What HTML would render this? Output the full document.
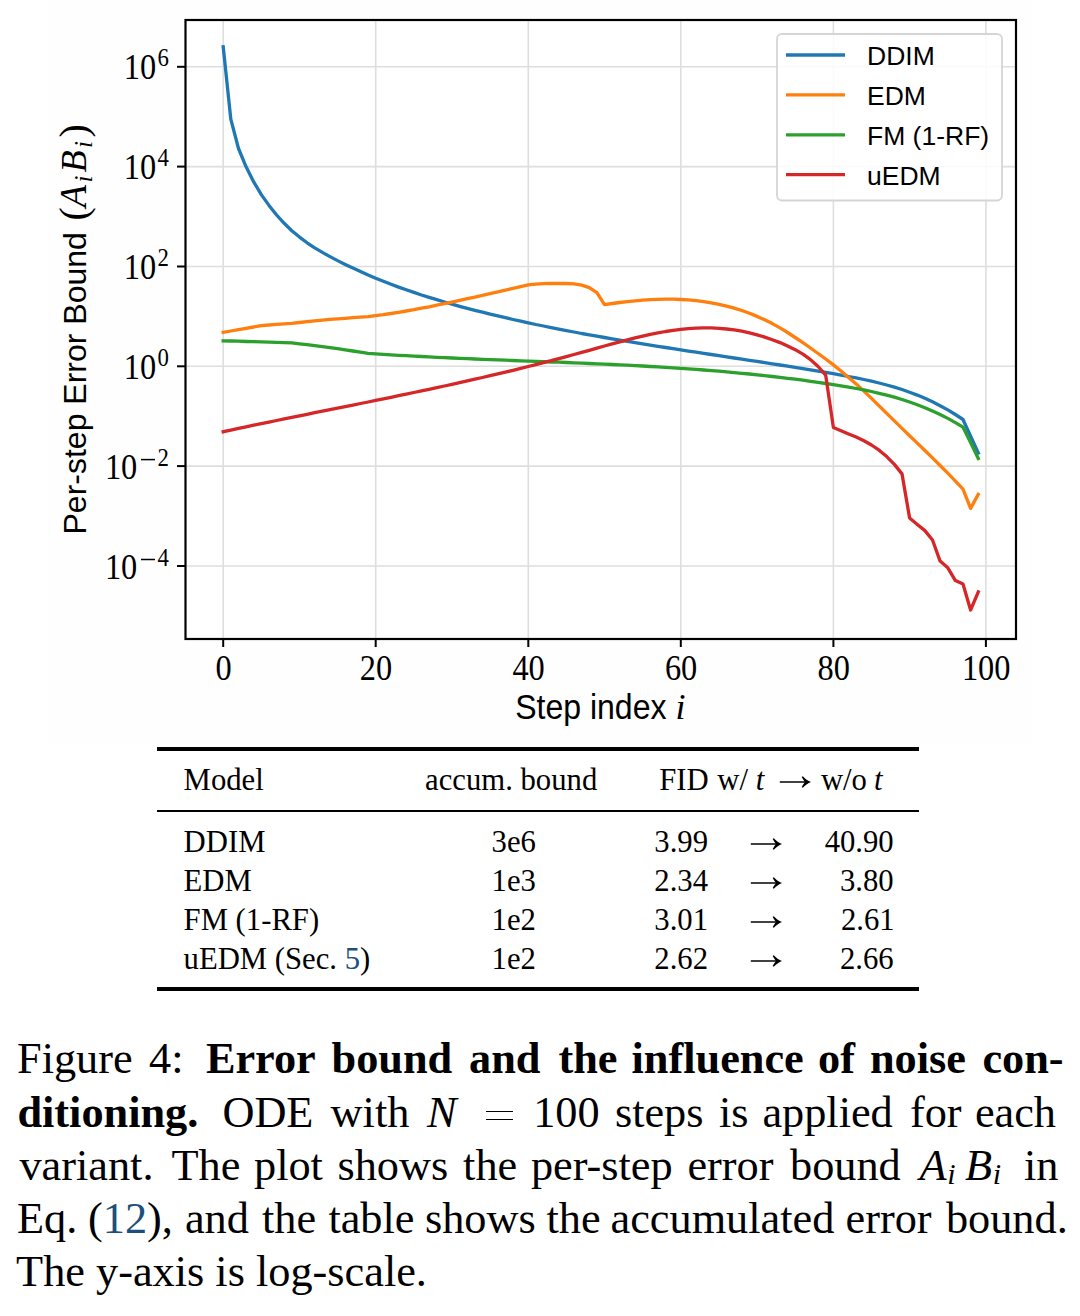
<!DOCTYPE html>
<html><head><meta charset="utf-8"><style>
html,body{margin:0;padding:0;background:#fff;width:1080px;height:1316px;overflow:hidden;position:relative}
.t{position:absolute;font-family:"Liberation Serif",serif;color:#000;white-space:pre;line-height:1}
.rule{position:absolute;background:#000}
.cap{position:absolute;left:18px;width:1041px;font-family:"Liberation Serif",serif;font-size:43.5px;line-height:1;text-align:justify;text-align-last:justify;white-space:nowrap}
.blue{color:#1c4f7c}
sub{font-size:0.68em;vertical-align:baseline;position:relative;top:0.13em;margin-left:0.02em}
</style></head><body>
<svg width="1080" height="760" viewBox="0 0 1080 760" style="position:absolute;left:0;top:0"><rect x="48" y="0" width="984" height="744" fill="#fefefe"/><rect x="186" y="20" width="830" height="619" fill="#ffffff"/><line x1="223.2" y1="20" x2="223.2" y2="639" stroke="#dedede" stroke-width="1.6"/><line x1="375.7" y1="20" x2="375.7" y2="639" stroke="#dedede" stroke-width="1.6"/><line x1="528.3" y1="20" x2="528.3" y2="639" stroke="#dedede" stroke-width="1.6"/><line x1="680.8" y1="20" x2="680.8" y2="639" stroke="#dedede" stroke-width="1.6"/><line x1="833.4" y1="20" x2="833.4" y2="639" stroke="#dedede" stroke-width="1.6"/><line x1="985.9" y1="20" x2="985.9" y2="639" stroke="#dedede" stroke-width="1.6"/><line x1="186" y1="66.8" x2="1016" y2="66.8" stroke="#dedede" stroke-width="1.6"/><line x1="186" y1="166.6" x2="1016" y2="166.6" stroke="#dedede" stroke-width="1.6"/><line x1="186" y1="266.5" x2="1016" y2="266.5" stroke="#dedede" stroke-width="1.6"/><line x1="186" y1="366.3" x2="1016" y2="366.3" stroke="#dedede" stroke-width="1.6"/><line x1="186" y1="466.1" x2="1016" y2="466.1" stroke="#dedede" stroke-width="1.6"/><line x1="186" y1="566.0" x2="1016" y2="566.0" stroke="#dedede" stroke-width="1.6"/><g fill="none" stroke-width="3.3" stroke-linejoin="round" stroke-linecap="square"><path d="M223.2,46.7 L230.8,119.1 L238.5,148.5 L246.1,166.8 L253.7,181.9 L261.3,194.6 L269.0,205.4 L276.6,215.0 L284.2,223.3 L291.8,230.7 L299.5,237.1 L307.1,242.8 L314.7,247.9 L322.4,252.4 L330.0,256.6 L337.6,260.6 L345.2,264.4 L352.9,268.1 L360.5,271.6 L368.1,274.9 L375.7,278.2 L383.4,281.3 L391.0,284.2 L398.6,287.1 L406.2,289.8 L413.9,292.4 L421.5,295.0 L429.1,297.4 L436.8,299.7 L444.4,302.0 L452.0,304.2 L459.6,306.3 L467.3,308.3 L474.9,310.3 L482.5,312.2 L490.1,314.1 L497.8,315.9 L505.4,317.7 L513.0,319.5 L520.7,321.2 L528.3,322.8 L535.9,324.5 L543.5,326.0 L551.2,327.6 L558.8,329.1 L566.4,330.6 L574.0,332.0 L581.7,333.5 L589.3,334.8 L596.9,336.2 L604.5,337.5 L612.2,338.9 L619.8,340.2 L627.4,341.4 L635.1,342.7 L642.7,343.9 L650.3,345.1 L657.9,346.3 L665.6,347.5 L673.2,348.7 L680.8,349.9 L688.4,351.1 L696.1,352.2 L703.7,353.4 L711.3,354.5 L719.0,355.7 L726.6,356.8 L734.2,358.0 L741.8,359.1 L749.5,360.3 L757.1,361.4 L764.7,362.6 L772.3,363.8 L780.0,365.0 L787.6,366.2 L795.2,367.4 L802.9,368.6 L810.5,369.9 L818.1,371.1 L825.7,372.4 L833.4,373.7 L841.0,375.1 L848.6,376.5 L856.2,377.9 L863.9,379.5 L871.5,381.1 L879.1,383.0 L886.7,385.0 L894.4,387.1 L902.0,389.5 L909.6,392.2 L917.3,395.1 L924.9,398.3 L932.5,401.8 L940.1,405.7 L947.8,409.9 L955.4,414.5 L963.0,419.5 L970.6,436.3 L978.3,453.0" stroke="#1f77b4"/><path d="M223.2,332.4 L230.8,331.0 L238.5,329.7 L246.1,328.3 L253.7,327.0 L261.3,325.6 L269.0,325.0 L276.6,324.4 L284.2,323.9 L291.8,323.3 L299.5,322.5 L307.1,321.7 L314.7,320.9 L322.4,320.2 L330.0,319.4 L337.6,318.8 L345.2,318.3 L352.9,317.7 L360.5,317.2 L368.1,316.7 L375.7,315.7 L383.4,314.7 L391.0,313.5 L398.6,312.3 L406.2,311.0 L413.9,309.7 L421.5,308.2 L429.1,306.8 L436.8,305.2 L444.4,303.7 L452.0,302.1 L459.6,300.4 L467.3,298.7 L474.9,297.1 L482.5,295.3 L490.1,293.6 L497.8,291.9 L505.4,290.1 L513.0,288.4 L520.7,286.7 L528.3,284.9 L535.9,284.1 L543.5,283.7 L551.2,283.5 L558.8,283.4 L566.4,283.5 L574.0,283.8 L581.7,285.1 L589.3,287.6 L596.9,292.7 L604.5,304.6 L612.2,303.5 L619.8,302.5 L627.4,301.6 L635.1,300.8 L642.7,300.2 L650.3,299.7 L657.9,299.3 L665.6,299.2 L673.2,299.2 L680.8,299.5 L688.4,299.9 L696.1,300.6 L703.7,301.6 L711.3,302.8 L719.0,304.3 L726.6,306.1 L734.2,308.1 L741.8,310.5 L749.5,313.3 L757.1,316.4 L764.7,319.8 L772.3,323.6 L780.0,327.9 L787.6,332.5 L795.2,337.5 L802.9,342.7 L810.5,348.0 L818.1,353.5 L825.7,359.0 L833.4,364.9 L841.0,371.0 L848.6,377.4 L856.2,384.1 L863.9,391.1 L871.5,398.4 L879.1,405.9 L886.7,413.4 L894.4,420.9 L902.0,428.4 L909.6,435.7 L917.3,443.1 L924.9,450.5 L932.5,457.9 L940.1,465.5 L947.8,473.2 L955.4,481.1 L963.0,489.2 L970.6,508.4 L978.3,494.3" stroke="#ff7f0e"/><path d="M223.2,340.8 L230.8,341.0 L238.5,341.2 L246.1,341.5 L253.7,341.7 L261.3,341.9 L269.0,342.1 L276.6,342.4 L284.2,342.6 L291.8,342.8 L299.5,343.8 L307.1,344.7 L314.7,345.7 L322.4,346.6 L330.0,347.6 L337.6,348.7 L345.2,349.8 L352.9,351.0 L360.5,352.1 L368.1,353.3 L375.7,353.8 L383.4,354.3 L391.0,354.8 L398.6,355.3 L406.2,355.7 L413.9,356.1 L421.5,356.5 L429.1,356.9 L436.8,357.3 L444.4,357.7 L452.0,358.0 L459.6,358.4 L467.3,358.7 L474.9,359.0 L482.5,359.3 L490.1,359.6 L497.8,359.9 L505.4,360.2 L513.0,360.5 L520.7,360.8 L528.3,361.1 L535.9,361.4 L543.5,361.7 L551.2,362.0 L558.8,362.2 L566.4,362.5 L574.0,362.9 L581.7,363.2 L589.3,363.5 L596.9,363.8 L604.5,364.2 L612.2,364.5 L619.8,364.9 L627.4,365.2 L635.1,365.6 L642.7,366.0 L650.3,366.5 L657.9,366.9 L665.6,367.4 L673.2,367.8 L680.8,368.3 L688.4,368.9 L696.1,369.4 L703.7,370.0 L711.3,370.6 L719.0,371.2 L726.6,371.9 L734.2,372.6 L741.8,373.3 L749.5,374.0 L757.1,374.8 L764.7,375.6 L772.3,376.5 L780.0,377.3 L787.6,378.3 L795.2,379.2 L802.9,380.2 L810.5,381.3 L818.1,382.3 L825.7,383.5 L833.4,384.6 L841.0,385.8 L848.6,387.1 L856.2,388.5 L863.9,389.9 L871.5,391.5 L879.1,393.3 L886.7,395.2 L894.4,397.2 L902.0,399.5 L909.6,402.0 L917.3,404.7 L924.9,407.7 L932.5,411.0 L940.1,414.5 L947.8,418.4 L955.4,422.6 L963.0,427.2 L970.6,442.5 L978.3,458.5" stroke="#2ca02c"/><path d="M223.2,431.7 L230.8,430.1 L238.5,428.4 L246.1,426.8 L253.7,425.2 L261.3,423.6 L269.0,422.1 L276.6,420.5 L284.2,418.9 L291.8,417.4 L299.5,415.8 L307.1,414.3 L314.7,412.7 L322.4,411.2 L330.0,409.7 L337.6,408.1 L345.2,406.6 L352.9,405.1 L360.5,403.5 L368.1,402.0 L375.7,400.4 L383.4,398.8 L391.0,397.3 L398.6,395.7 L406.2,394.1 L413.9,392.5 L421.5,390.9 L429.1,389.3 L436.8,387.6 L444.4,386.0 L452.0,384.3 L459.6,382.6 L467.3,380.9 L474.9,379.2 L482.5,377.5 L490.1,375.7 L497.8,373.9 L505.4,372.1 L513.0,370.3 L520.7,368.4 L528.3,366.5 L535.9,364.6 L543.5,362.6 L551.2,360.7 L558.8,358.6 L566.4,356.6 L574.0,354.5 L581.7,352.4 L589.3,350.3 L596.9,348.1 L604.5,346.0 L612.2,343.9 L619.8,341.8 L627.4,339.8 L635.1,337.9 L642.7,336.1 L650.3,334.4 L657.9,332.9 L665.6,331.5 L673.2,330.3 L680.8,329.3 L688.4,328.6 L696.1,328.1 L703.7,327.9 L711.3,327.9 L719.0,328.3 L726.6,329.0 L734.2,329.9 L741.8,331.2 L749.5,332.8 L757.1,334.8 L764.7,337.1 L772.3,339.7 L780.0,342.6 L787.6,346.0 L795.2,349.7 L802.9,354.2 L810.5,359.6 L818.1,366.5 L825.7,375.2 L833.4,427.4 L841.0,430.7 L848.6,433.9 L856.2,437.1 L863.9,440.7 L871.5,445.0 L879.1,450.2 L886.7,456.6 L894.4,464.4 L902.0,473.9 L909.6,518.0 L917.3,524.4 L924.9,530.6 L932.5,540.0 L940.1,561.1 L947.8,567.8 L955.4,580.6 L963.0,584.0 L970.6,610.0 L978.3,591.8" stroke="#d62728"/></g><rect x="185.5" y="20" width="830.5" height="619" fill="none" stroke="#000" stroke-width="2.2"/><line x1="223.2" y1="639" x2="223.2" y2="647" stroke="#000" stroke-width="2"/><line x1="375.7" y1="639" x2="375.7" y2="647" stroke="#000" stroke-width="2"/><line x1="528.3" y1="639" x2="528.3" y2="647" stroke="#000" stroke-width="2"/><line x1="680.8" y1="639" x2="680.8" y2="647" stroke="#000" stroke-width="2"/><line x1="833.4" y1="639" x2="833.4" y2="647" stroke="#000" stroke-width="2"/><line x1="985.9" y1="639" x2="985.9" y2="647" stroke="#000" stroke-width="2"/><line x1="177" y1="66.8" x2="185.5" y2="66.8" stroke="#000" stroke-width="2"/><line x1="177" y1="166.6" x2="185.5" y2="166.6" stroke="#000" stroke-width="2"/><line x1="177" y1="266.5" x2="185.5" y2="266.5" stroke="#000" stroke-width="2"/><line x1="177" y1="366.3" x2="185.5" y2="366.3" stroke="#000" stroke-width="2"/><line x1="177" y1="466.1" x2="185.5" y2="466.1" stroke="#000" stroke-width="2"/><line x1="177" y1="566.0" x2="185.5" y2="566.0" stroke="#000" stroke-width="2"/><text transform="translate(223.5,679.6) scale(0.88,1)" text-anchor="middle" font-family="Liberation Serif" font-size="36.8">0</text><text transform="translate(376.0,679.6) scale(0.88,1)" text-anchor="middle" font-family="Liberation Serif" font-size="36.8">20</text><text transform="translate(528.6,679.6) scale(0.88,1)" text-anchor="middle" font-family="Liberation Serif" font-size="36.8">40</text><text transform="translate(681.1,679.6) scale(0.88,1)" text-anchor="middle" font-family="Liberation Serif" font-size="36.8">60</text><text transform="translate(833.7,679.6) scale(0.88,1)" text-anchor="middle" font-family="Liberation Serif" font-size="36.8">80</text><text transform="translate(986.2,679.6) scale(0.88,1)" text-anchor="middle" font-family="Liberation Serif" font-size="36.8">100</text><text transform="translate(156.2,79.4) scale(0.88,1)" text-anchor="end" font-family="Liberation Serif" font-size="36.8">10</text><text transform="translate(157.4,66.4) scale(0.9,1)" font-family="Liberation Serif" font-size="25.3">6</text><text transform="translate(156.2,179.2) scale(0.88,1)" text-anchor="end" font-family="Liberation Serif" font-size="36.8">10</text><text transform="translate(157.4,166.2) scale(0.9,1)" font-family="Liberation Serif" font-size="25.3">4</text><text transform="translate(156.2,279.1) scale(0.88,1)" text-anchor="end" font-family="Liberation Serif" font-size="36.8">10</text><text transform="translate(157.4,266.1) scale(0.9,1)" font-family="Liberation Serif" font-size="25.3">2</text><text transform="translate(156.2,378.9) scale(0.88,1)" text-anchor="end" font-family="Liberation Serif" font-size="36.8">10</text><text transform="translate(157.4,365.9) scale(0.9,1)" font-family="Liberation Serif" font-size="25.3">0</text><text transform="translate(137.3,478.7) scale(0.88,1)" text-anchor="end" font-family="Liberation Serif" font-size="36.8">10</text><text transform="translate(157.4,465.7) scale(0.9,1)" font-family="Liberation Serif" font-size="25.3">2</text><line x1="141" y1="459.6" x2="155" y2="459.6" stroke="#000" stroke-width="1.5"/><text transform="translate(137.3,578.6) scale(0.88,1)" text-anchor="end" font-family="Liberation Serif" font-size="36.8">10</text><text transform="translate(157.4,565.6) scale(0.9,1)" font-family="Liberation Serif" font-size="25.3">4</text><line x1="141" y1="559.5" x2="155" y2="559.5" stroke="#000" stroke-width="1.5"/><g transform="translate(515.2,719.3) scale(0.915,1)"><text x="0" y="0" font-family="Liberation Sans" font-size="35">Step index</text></g><text x="675.5" y="719.3" font-family="Liberation Serif" font-style="italic" font-size="36">i</text><text transform="translate(86,534.5) rotate(-90)" font-family="Liberation Sans" font-size="32">Per-step Error Bound</text><text transform="translate(87.0,220.5) rotate(-90)" font-family="Liberation Serif" font-size="40">(</text><text transform="translate(85.5,207.5) rotate(-90)" font-family="Liberation Serif" font-style="italic" font-size="37">A</text><text transform="translate(91.5,182.5) rotate(-90)" font-family="Liberation Serif" font-style="italic" font-size="25">i</text><text transform="translate(85.9,172.5) rotate(-90)" font-family="Liberation Serif" font-style="italic" font-size="36.5">B</text><text transform="translate(91.5,148.0) rotate(-90)" font-family="Liberation Serif" font-style="italic" font-size="25">i</text><text transform="translate(87.0,137.5) rotate(-90)" font-family="Liberation Serif" font-size="40">)</text><rect x="777" y="34" width="225" height="166.5" rx="5" ry="5" fill="#ffffff" fill-opacity="0.85" stroke="#d5d5d5" stroke-width="1.8"/><line x1="786" y1="55.0" x2="845" y2="55.0" stroke="#1f77b4" stroke-width="3.3"/><text x="867" y="65.0" font-family="Liberation Sans" font-size="26.5">DDIM</text><line x1="786" y1="94.9" x2="845" y2="94.9" stroke="#ff7f0e" stroke-width="3.3"/><text x="867" y="104.9" font-family="Liberation Sans" font-size="26.5">EDM</text><line x1="786" y1="134.8" x2="845" y2="134.8" stroke="#2ca02c" stroke-width="3.3"/><text x="867" y="144.8" font-family="Liberation Sans" font-size="26.5">FM (1-RF)</text><line x1="786" y1="174.7" x2="845" y2="174.7" stroke="#d62728" stroke-width="3.3"/><text x="867" y="184.7" font-family="Liberation Sans" font-size="26.5">uEDM</text></svg>
<div class="rule" style="left:157px;top:747px;width:762px;height:4px"></div>
<div class="rule" style="left:157px;top:809.5px;width:762px;height:2.6px"></div>
<div class="rule" style="left:157px;top:987px;width:762px;height:4px"></div>
<div class="t w" style="left:183.6px;top:765.3px;font-size:30.7px">Model</div>
<div class="t w" style="left:425.1px;top:765.3px;font-size:30.7px">accum. bound</div>
<div class="t w" style="left:659.2px;top:765.3px;font-size:30.7px">FID</div>
<div class="t w" style="left:717.3px;top:765.3px;font-size:30.7px">w/</div>
<div class="t w" style="left:755.8px;top:765.3px;font-size:30.7px"><i>t</i></div>
<div class="t w" style="left:820.9px;top:765.3px;font-size:30.7px">w/o</div>
<div class="t w" style="left:874.1px;top:765.3px;font-size:30.7px"><i>t</i></div>
<div class="t w" style="left:183.6px;top:827.0px;font-size:30.7px">DDIM</div>
<div class="t w" style="left:213.7px;width:600px;text-align:center;top:827.0px;font-size:30.7px">3e6</div>
<div class="t w" style="left:654.3px;top:827.0px;font-size:30.7px">3.99</div>
<div class="t w" style="left:293.7px;width:600px;text-align:right;top:827.0px;font-size:30.7px">40.90</div>
<div class="t w" style="left:183.6px;top:866.0px;font-size:30.7px">EDM</div>
<div class="t w" style="left:213.7px;width:600px;text-align:center;top:866.0px;font-size:30.7px">1e3</div>
<div class="t w" style="left:654.3px;top:866.0px;font-size:30.7px">2.34</div>
<div class="t w" style="left:293.7px;width:600px;text-align:right;top:866.0px;font-size:30.7px">3.80</div>
<div class="t w" style="left:183.6px;top:904.8px;font-size:30.7px">FM (1-RF)</div>
<div class="t w" style="left:213.7px;width:600px;text-align:center;top:904.8px;font-size:30.7px">1e2</div>
<div class="t w" style="left:654.3px;top:904.8px;font-size:30.7px">3.01</div>
<div class="t w" style="left:294.7px;width:600px;text-align:right;top:904.8px;font-size:30.7px">2.61</div>
<div class="t w" style="left:183.6px;top:943.7px;font-size:30.7px">uEDM (Sec. <span class="blue">5</span>)</div>
<div class="t w" style="left:213.7px;width:600px;text-align:center;top:943.7px;font-size:30.7px">1e2</div>
<div class="t w" style="left:654.3px;top:943.7px;font-size:30.7px">2.62</div>
<div class="t w" style="left:293.7px;width:600px;text-align:right;top:943.7px;font-size:30.7px">2.66</div>
<div class="t w" style="left:17.0px;top:1037.2px;font-size:44.3px">Figure</div>
<div class="t w" style="left:149.0px;top:1037.2px;font-size:44.3px">4:</div>
<div class="t w" style="left:205.9px;top:1037.2px;font-size:44.3px"><b>Error</b></div>
<div class="t w" style="left:331.5px;top:1037.2px;font-size:44.3px"><b>bound</b></div>
<div class="t w" style="left:469.0px;top:1037.2px;font-size:44.3px"><b>and</b></div>
<div class="t w" style="left:558.4px;top:1037.2px;font-size:44.3px"><b>the</b></div>
<div class="t w" style="left:631.5px;top:1037.2px;font-size:44.3px"><b>influence</b></div>
<div class="t w" style="left:818.0px;top:1037.2px;font-size:44.3px"><b>of</b></div>
<div class="t w" style="left:869.9px;top:1037.2px;font-size:44.3px"><b>noise</b></div>
<div class="t w" style="left:982.4px;top:1037.2px;font-size:44.3px"><b>con-</b></div>
<div class="t w" style="left:17.4px;top:1090.8px;font-size:44.3px"><b>ditioning.</b></div>
<div class="t w" style="left:222.4px;top:1090.8px;font-size:44.3px">ODE</div>
<div class="t w" style="left:330.6px;top:1090.8px;font-size:44.3px">with</div>
<div class="t w" style="left:426.9px;top:1090.8px;font-size:44.3px"><i>N</i></div>
<div class="t w" style="left:533.2px;top:1090.8px;font-size:44.3px">100</div>
<div class="t w" style="left:614.9px;top:1090.8px;font-size:44.3px">steps</div>
<div class="t w" style="left:719.0px;top:1090.8px;font-size:44.3px">is</div>
<div class="t w" style="left:762.4px;top:1090.8px;font-size:44.3px">applied</div>
<div class="t w" style="left:909.9px;top:1090.8px;font-size:44.3px">for</div>
<div class="t w" style="left:974.9px;top:1090.8px;font-size:44.3px">each</div>
<div class="t w" style="left:19.4px;top:1143.9px;font-size:44.3px">variant.</div>
<div class="t w" style="left:171.5px;top:1143.9px;font-size:44.3px">The</div>
<div class="t w" style="left:254.0px;top:1143.9px;font-size:44.3px">plot</div>
<div class="t w" style="left:337.4px;top:1143.9px;font-size:44.3px">shows</div>
<div class="t w" style="left:463.1px;top:1143.9px;font-size:44.3px">the</div>
<div class="t w" style="left:530.9px;top:1143.9px;font-size:44.3px">per-step</div>
<div class="t w" style="left:687.4px;top:1143.9px;font-size:44.3px">error</div>
<div class="t w" style="left:790.0px;top:1143.9px;font-size:44.3px">bound</div>
<div class="t w" style="left:919.5px;top:1143.9px;font-size:44.3px"><i>A<sub>i</sub></i></div>
<div class="t w" style="left:965.0px;top:1143.9px;font-size:44.3px"><i>B<sub>i</sub></i></div>
<div class="t w" style="left:1024.0px;top:1143.9px;font-size:44.3px">in</div>
<div class="t w" style="left:17.0px;top:1196.7px;font-size:44.3px">Eq.</div>
<div class="t w" style="left:88.0px;top:1196.7px;font-size:44.3px">(<span class="blue">12</span>),</div>
<div class="t w" style="left:184.9px;top:1196.7px;font-size:44.3px">and</div>
<div class="t w" style="left:262.0px;top:1196.7px;font-size:44.3px">the</div>
<div class="t w" style="left:328.4px;top:1196.7px;font-size:44.3px">table</div>
<div class="t w" style="left:424.9px;top:1196.7px;font-size:44.3px">shows</div>
<div class="t w" style="left:546.5px;top:1196.7px;font-size:44.3px">the</div>
<div class="t w" style="left:610.5px;top:1196.7px;font-size:44.3px">accumulated</div>
<div class="t w" style="left:845.5px;top:1196.7px;font-size:44.3px">error</div>
<div class="t w" style="left:945.9px;top:1196.7px;font-size:44.3px">bound.</div>
<div class="t w" style="left:16.1px;top:1249.5px;font-size:44.3px">The y-axis is log-scale.</div>
<div class="rule" style="left:486.3px;top:1110.6px;width:26.7px;height:1.9px"></div><div class="rule" style="left:486.3px;top:1118.5px;width:26.7px;height:1.9px"></div>
<svg style="position:absolute;left:776.5px;top:774.0px" width="36" height="16" viewBox="776.5 774.0 36 16"><line x1="779.3" y1="782.0" x2="806.5" y2="782.0" stroke="#111" stroke-width="1.6"/><path d="M810.5,782.0 C807.5,780.8 804.5,778.7 802.3,776.2 L801.2,777.1 C802.2,779.0 803.5,780.6 804.5,782.0 C803.5,783.4 802.2,785.0 801.2,786.9 L802.3,787.8 C804.5,785.3 807.5,783.2 810.5,782.0 Z" fill="#000"/></svg>
<svg style="position:absolute;left:747.9px;top:836.0px" width="36" height="16" viewBox="747.9 836.0 36 16"><line x1="750.7" y1="844.0" x2="777.9" y2="844.0" stroke="#111" stroke-width="1.6"/><path d="M781.9,844.0 C778.9,842.8 775.9,840.7 773.7,838.2 L772.6,839.1 C773.6,841.0 774.9,842.6 775.9,844.0 C774.9,845.4 773.6,847.0 772.6,848.9 L773.7,849.8 C775.9,847.3 778.9,845.2 781.9,844.0 Z" fill="#000"/></svg>
<svg style="position:absolute;left:747.9px;top:875.0px" width="36" height="16" viewBox="747.9 875.0 36 16"><line x1="750.7" y1="883.0" x2="777.9" y2="883.0" stroke="#111" stroke-width="1.6"/><path d="M781.9,883.0 C778.9,881.8 775.9,879.7 773.7,877.2 L772.6,878.1 C773.6,880.0 774.9,881.6 775.9,883.0 C774.9,884.4 773.6,886.0 772.6,887.9 L773.7,888.8 C775.9,886.3 778.9,884.2 781.9,883.0 Z" fill="#000"/></svg>
<svg style="position:absolute;left:747.9px;top:913.8px" width="36" height="16" viewBox="747.9 913.8 36 16"><line x1="750.7" y1="921.8" x2="777.9" y2="921.8" stroke="#111" stroke-width="1.6"/><path d="M781.9,921.8 C778.9,920.6 775.9,918.5 773.7,916.0 L772.6,916.9 C773.6,918.8 774.9,920.4 775.9,921.8 C774.9,923.2 773.6,924.8 772.6,926.7 L773.7,927.6 C775.9,925.1 778.9,923.0 781.9,921.8 Z" fill="#000"/></svg>
<svg style="position:absolute;left:747.9px;top:952.7px" width="36" height="16" viewBox="747.9 952.7 36 16"><line x1="750.7" y1="960.7" x2="777.9" y2="960.7" stroke="#111" stroke-width="1.6"/><path d="M781.9,960.7 C778.9,959.5 775.9,957.4 773.7,954.9 L772.6,955.8 C773.6,957.7 774.9,959.3 775.9,960.7 C774.9,962.1 773.6,963.7 772.6,965.6 L773.7,966.5 C775.9,964.0 778.9,961.9 781.9,960.7 Z" fill="#000"/></svg>
</body></html>
